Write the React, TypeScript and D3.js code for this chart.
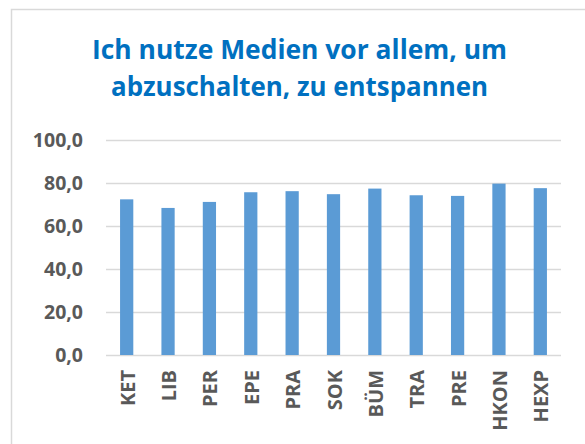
import React from "react";
import * as d3 from "d3";

const categories = ["KET", "LIB", "PER", "EPE", "PRA", "SOK", "BÜM", "TRA", "PRE", "HKON", "HEXP"];
const values = [72.4, 68.4, 71.2, 75.7, 76.2, 74.8, 77.4, 74.3, 74.0, 79.7, 77.6];
const yTicks = [0, 20, 40, 60, 80, 100];
const titleLines = ["Ich nutze Medien vor allem, um", "abzuschalten, zu entspannen"];

const W = 585;
const H = 444;
const plot = { left: 106, right: 561, top: 140, bottom: 355 };

export default function App() {
  const x = d3
    .scaleBand<string>()
    .domain(categories)
    .range([plot.left, plot.right])
    .paddingInner(0.68)
    .paddingOuter(0.34);
  const y = d3.scaleLinear().domain([0, 100]).range([plot.bottom, plot.top]);
  const fmt = (v: number) => d3.format(".1f")(v).replace(".", ",");
  const font = "'Open Sans', Lato, sans-serif";
  const gray = "#595959";

  return (
    <svg
      width={W}
      height={H}
      style={{ position: "absolute", left: 0, top: 0, background: "#fff" }}
    >
      <rect x={0} y={0} width={W} height={H} fill="#fff" />
      <rect x={11.5} y={9.5} width={W + 20} height={H + 20} fill="#fff" stroke="#d9d9d9" strokeWidth={1.5} />
      {titleLines.map((t, i) => (
        <text
          key={i}
          x={299.5}
          y={59 + i * 37}
          textAnchor="middle"
          fontFamily={font}
          fontWeight="bold"
          fontSize={26}
          fill="#0070C0"
          textLength={i === 0 ? 415 : 377}
          lengthAdjust="spacingAndGlyphs"
        >
          {t}
        </text>
      ))}
      {yTicks.map((t) => (
        <g key={t}>
          <line
            x1={plot.left}
            x2={plot.right}
            y1={Math.round(y(t)) + 0.5}
            y2={Math.round(y(t)) + 0.5}
            stroke="#d9d9d9"
            strokeWidth={1.5}
          />
          <text
            x={83}
            y={y(t)}
            dy="0.36em"
            textAnchor="end"
            fontFamily={font}
            fontWeight="bold"
            fontSize={19.5}
            fill={gray}
          >
            {fmt(t)}
          </text>
        </g>
      ))}
      {categories.map((c, i) => (
        <rect
          key={c}
          x={x(c)!}
          y={y(values[i])}
          width={x.bandwidth()}
          height={y(0) - y(values[i])}
          fill="#5B9BD5"
        />
      ))}
      {categories.map((c) => {
        const cx = x(c)! + x.bandwidth() / 2 + 8;
        const cy = 370;
        return (
          <text
            key={c}
            transform={`translate(${cx},${cy}) rotate(-90)`}
            textAnchor="end"
            fontFamily={font}
            fontWeight="bold"
            fontSize={20}
            fill={gray}
          >
            {c}
          </text>
        );
      })}
    </svg>
  );
}
